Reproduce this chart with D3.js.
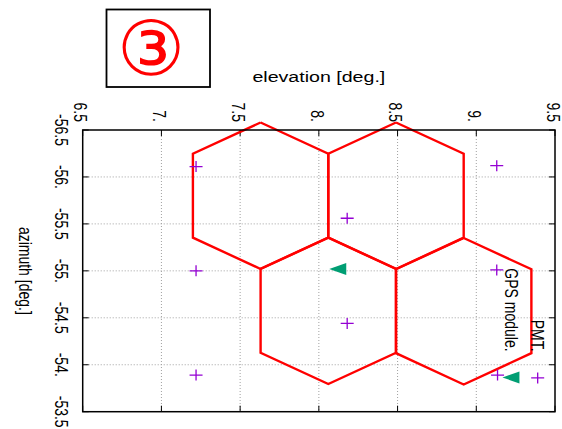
<!DOCTYPE html>
<html>
<head>
<meta charset="utf-8">
<script src="https://cdn.jsdelivr.net/npm/d3@7"></script>
<style>
  html, body { margin: 0; padding: 0; background: #fff; }
  svg { display: block; }
  text { font-family: "Liberation Sans", Arial, sans-serif; fill: #000; }
</style>
</head>
<body>
<script>
// Axis ranges and tick labels
const elevationTicks = [6.5, 7, 7.5, 8, 8.5, 9, 9.5];
const elevationLabels = ["6.5", "7.", "7.5", "8.", "8.5", "9.", "9.5"];
const azimuthTicks = [-56.5, -56, -55.5, -55, -54.5, -54, -53.5];
const azimuthLabels = ["-56.5", "-56.", "-55.5", "-55.", "-54.5", "-54.", "-53.5"];

// Telescope pixel (hexagon) centres, in degrees
const hexElevation = [7.63, 8.49, 8.06, 8.92];
const hexAzimuth = [-55.80, -55.80, -54.575, -54.57];
const hexHalfWidth = 0.43;    // elevation half-width
const hexHalfHeight = 0.78;   // azimuth distance centre -> apex
const hexShoulder = 0.447;    // azimuth distance centre -> side corners

// Source positions (+)
const crossElevation = [7.22, 7.22, 7.22, 8.18, 8.18, 9.13, 9.13, 9.135, 9.39];
const crossAzimuth = [-56.11, -55.00, -53.89, -55.56, -54.44, -56.12, -55.01, -53.89, -53.86];

// Reference directions (triangles)
const triElevation = [8.12, 9.22];
const triAzimuth = [-55.02, -53.865];

// Text labels inside the plot
const noteLabels = ["GPS module.", "PMT."];
const noteElevation = [9.225, 9.39];
const noteAzimuth = [-54.14, -54.14];

const W = 562, H = 429;
const plot = { left: 82.7, right: 555, top: 130, bottom: 411.7 };
const stretch = 1.35; // horizontal glyph stretch

const svg = d3.select("body").append("svg")
  .attr("width", W).attr("height", H);

const x = d3.scaleLinear().domain([6.5, 9.5]).range([plot.left, plot.right]);
const y = d3.scaleLinear().domain([-56.5, -53.5]).range([plot.top, plot.bottom]);

// Grid (interior ticks only)
const grid = svg.append("g")
  .attr("stroke", "#a0a0a0").attr("stroke-width", 1).attr("stroke-dasharray", "1,2");
grid.selectAll("line.gx").data(elevationTicks.slice(1, -1)).join("line")
  .attr("x1", d => x(d)).attr("x2", d => x(d))
  .attr("y1", plot.top).attr("y2", plot.bottom);
grid.selectAll("line.gy").data(azimuthTicks.slice(1, -1)).join("line")
  .attr("x1", plot.left).attr("x2", plot.right)
  .attr("y1", d => y(d)).attr("y2", d => y(d));

// Tick marks pointing inward on all four sides
const tickLen = 6;
const ticks = svg.append("g").attr("stroke", "#000").attr("stroke-width", 1);
elevationTicks.forEach(t => {
  ticks.append("line").attr("x1", x(t)).attr("x2", x(t)).attr("y1", plot.top).attr("y2", plot.top + tickLen);
  ticks.append("line").attr("x1", x(t)).attr("x2", x(t)).attr("y1", plot.bottom).attr("y2", plot.bottom - tickLen);
});
azimuthTicks.forEach(t => {
  ticks.append("line").attr("y1", y(t)).attr("y2", y(t)).attr("x1", plot.left).attr("x2", plot.left + tickLen);
  ticks.append("line").attr("y1", y(t)).attr("y2", y(t)).attr("x1", plot.right).attr("x2", plot.right - tickLen);
});

// Hexagonal pixels
const line = d3.line().x(d => x(d[0])).y(d => y(d[1]));
const hexes = hexElevation.map((cx, i) => {
  const cy = hexAzimuth[i];
  return [
    [cx, cy - hexHalfHeight],
    [cx + hexHalfWidth, cy - hexShoulder],
    [cx + hexHalfWidth, cy + hexShoulder],
    [cx, cy + hexHalfHeight],
    [cx - hexHalfWidth, cy + hexShoulder],
    [cx - hexHalfWidth, cy - hexShoulder],
    [cx, cy - hexHalfHeight]
  ];
});
svg.append("g").selectAll("path").data(hexes).join("path")
  .attr("d", line)
  .attr("fill", "none").attr("stroke", "#ff0000").attr("stroke-width", 2.4)
  .attr("stroke-linejoin", "miter");

// Cross markers
const crosses = svg.append("g").attr("stroke", "#9400d3").attr("stroke-width", 1.3);
crossElevation.forEach((e, i) => {
  const cx = x(e), cy = y(crossAzimuth[i]);
  crosses.append("path").attr("d", `M${cx - 6.5},${cy}H${cx + 6.5}M${cx},${cy - 5.5}V${cy + 5.5}`);
});

// Triangle markers (pointing toward lower elevation)
svg.append("g").selectAll("path").data(triElevation.map((e, i) => [e, triAzimuth[i]])).join("path")
  .attr("d", d => {
    const cx = x(d[0]), cy = y(d[1]);
    return `M${cx - 8.5},${cy}L${cx + 8.5},${cy - 6}L${cx + 8.5},${cy + 6}Z`;
  })
  .attr("fill", "#009e73");

// Plot border
svg.append("rect")
  .attr("x", plot.left).attr("y", plot.top)
  .attr("width", plot.right - plot.left).attr("height", plot.bottom - plot.top)
  .attr("fill", "none").attr("stroke", "#000").attr("stroke-width", 1.5);

// Rotated text helper: reads top to bottom
function vtext(tx, ty, str, anchor, size) {
  svg.append("text")
    .attr("transform", `translate(${tx},${ty}) scale(${stretch},1) rotate(90)`)
    .attr("text-anchor", anchor)
    .attr("dominant-baseline", "central")
    .attr("font-size", size)
    .text(str);
}

// Elevation tick labels (top)
elevationTicks.forEach((t, i) => vtext(x(t) - 2, 122, elevationLabels[i], "end", 14));
// Azimuth tick labels (left)
azimuthTicks.forEach((t, i) => vtext(61, y(t), azimuthLabels[i], "middle", 14));

// Axis titles
svg.append("text")
  .attr("transform", `translate(${(plot.left + plot.right) / 2},82) scale(1.4,1)`)
  .attr("text-anchor", "middle").attr("font-size", 14)
  .text("elevation [deg.]");
vtext(25, (plot.top + plot.bottom) / 2, "azimuth [deg.]", "middle", 14);

// In-plot notes
noteLabels.forEach((s, i) => vtext(x(noteElevation[i]), y(noteAzimuth[i]), s, "end", 14));

// Panel badge
svg.append("rect")
  .attr("x", 106.5).attr("y", 9.5).attr("width", 103.5).attr("height", 77.5)
  .attr("fill", "#fff").attr("stroke", "#000").attr("stroke-width", 1.8);
svg.append("text")
  .attr("x", 150.5).attr("y", 48.5)
  .attr("text-anchor", "middle").attr("dominant-baseline", "central")
  .attr("font-family", "'Noto Sans CJK JP', 'DejaVu Sans', sans-serif")
  .attr("font-size", 76)
  .style("fill", "#ff0000")
  .text("③");
</script>
</body>
</html>
